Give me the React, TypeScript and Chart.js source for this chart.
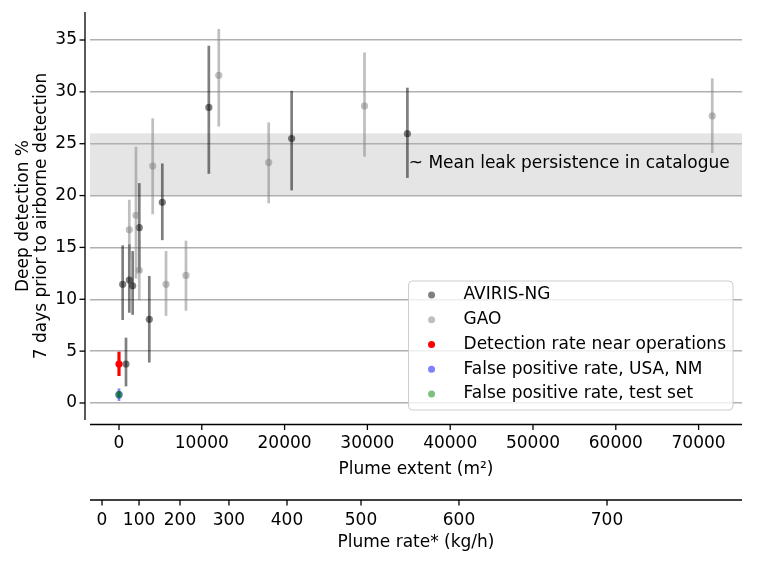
import { useEffect, useRef } from 'react';
import { Chart, registerables } from 'chart.js';
Chart.register(...registerables);

const FONT = "'DejaVu Sans', 'Liberation Sans', sans-serif";
const FS = 17;

// ---- data ----
const seriesNames = [
  'AVIRIS-NG',
  'GAO',
  'Detection rate near operations',
  'False positive rate, USA, NM',
  'False positive rate, test set',
];
const seriesColors = [
  'rgba(0,0,0,0.5)',
  'rgba(128,128,128,0.5)',
  'rgba(255,0,0,1)',
  'rgba(0,0,255,0.5)',
  'rgba(0,128,0,0.5)',
];

const avirisExtent = [445, 845, 1245, 1650, 2450, 3660, 5230, 10850, 20850, 34830];
const avirisValue = [11.45, 3.76, 11.86, 11.3, 16.9, 8.07, 19.35, 28.5, 25.5, 25.97];
const avirisLow = [8.0, 1.6, 8.7, 8.5, 12.6, 3.9, 15.7, 22.1, 20.5, 21.7];
const avirisHigh = [15.2, 6.3, 15.3, 14.65, 21.2, 12.25, 23.1, 34.45, 30.1, 30.4];

const gaoExtent = [1245, 2050, 2450, 4070, 5680, 8090, 12050, 18080, 29650, 71650];
const gaoValue = [16.7, 18.1, 12.8, 22.85, 11.45, 12.3, 31.6, 23.2, 28.64, 27.68];
const gaoLow = [13.8, 12.0, 9.9, 18.2, 8.4, 8.9, 26.65, 19.25, 23.75, 24.1];
const gaoHigh = [19.6, 24.7, 15.7, 27.45, 14.65, 15.65, 36.06, 27.06, 33.8, 31.3];

const opsExtent = [0];
const opsValue = [3.76];
const opsLow = [2.6];
const opsHigh = [4.95];

const fpUsaExtent = [0];
const fpUsaValue = [0.8];
const fpUsaLow = [0.2];
const fpUsaHigh = [1.4];

const fpTestExtent = [0];
const fpTestValue = [0.82];
const fpTestLow = [0.45];
const fpTestHigh = [1.15];

const bandLow = 20;
const bandHigh = 26;
const bandLabel = '~ Mean leak persistence in catalogue';
const bandLabelX = 35000;
const bandLabelY = 23.1;

const extentTicks = [0, 10000, 20000, 30000, 40000, 50000, 60000, 70000];
const rateTickLabels = [0, 100, 200, 300, 400, 500, 600, 700];
const rateTickExtents = [-2050, 2420, 7370, 13280, 20290, 29230, 41060, 58940];
const yTicks = [0, 5, 10, 15, 20, 25, 30, 35];

const xMin = -3502;
const xMax = 75242;
const yMin = -1.64;
const yMax = 37.7;

function pts(xs: number[], ys: number[], lo: number[], hi: number[]) {
  return xs.map((x, i) => ({ x, y: ys[i], yMin: lo[i], yMax: hi[i] }));
}

const decor = {
  id: 'decor',
  beforeDraw(chart: any) {
    const { ctx, chartArea, scales } = chart;
    const y = scales.y;
    const t = y.getPixelForValue(bandHigh);
    const b = y.getPixelForValue(bandLow);
    ctx.save();
    ctx.fillStyle = '#e5e5e5';
    ctx.fillRect(chartArea.left, t, chartArea.right - chartArea.left, b - t);
    ctx.restore();
  },
  beforeDatasetDraw(chart: any, args: any) {
    const ds = chart.data.datasets[args.index];
    const { ctx, scales } = chart;
    ctx.save();
    ctx.strokeStyle = ds.errColor;
    ctx.lineWidth = ds.errWidth;
    ctx.lineCap = 'butt';
    ds.data.forEach((p: any) => {
      const px = scales.x.getPixelForValue(p.x);
      ctx.beginPath();
      ctx.moveTo(px, scales.y.getPixelForValue(p.yMin));
      ctx.lineTo(px, scales.y.getPixelForValue(p.yMax));
      ctx.stroke();
    });
    ctx.restore();
  },
  afterDatasetsDraw(chart: any) {
    const { ctx, scales } = chart;
    ctx.save();
    ctx.fillStyle = '#000';
    ctx.font = `${FS}px ${FONT}`;
    ctx.textAlign = 'left';
    ctx.textBaseline = 'middle';
    ctx.fillText(bandLabel, scales.x.getPixelForValue(bandLabelX), scales.y.getPixelForValue(bandLabelY));
    ctx.restore();
  },
  afterDraw(chart: any) {
    const { ctx, chartArea, scales } = chart;
    const { left, right, top, bottom } = chartArea;
    ctx.save();
    ctx.strokeStyle = '#000';
    ctx.lineWidth = 1.3;
    // left spine
    const sx = left - 5;
    ctx.beginPath();
    ctx.moveTo(sx, top);
    ctx.lineTo(sx, bottom);
    ctx.stroke();
    yTicks.forEach((v) => {
      const py = scales.y.getPixelForValue(v);
      ctx.beginPath();
      ctx.moveTo(sx - 5.5, py);
      ctx.lineTo(sx, py);
      ctx.stroke();
    });
    // bottom spine
    const by = bottom + 4.5;
    ctx.beginPath();
    ctx.moveTo(left, by);
    ctx.lineTo(right, by);
    ctx.stroke();
    extentTicks.forEach((v) => {
      const px = scales.x.getPixelForValue(v);
      ctx.beginPath();
      ctx.moveTo(px, by);
      ctx.lineTo(px, by + 5.5);
      ctx.stroke();
    });
    // second axis
    const ry = scales.x2.top;
    ctx.beginPath();
    ctx.moveTo(left, ry);
    ctx.lineTo(right, ry);
    ctx.stroke();
    rateTickExtents.forEach((v) => {
      const px = scales.x2.getPixelForValue(v);
      ctx.beginPath();
      ctx.moveTo(px, ry);
      ctx.lineTo(px, ry + 5.5);
      ctx.stroke();
    });

    // legend
    ctx.font = `${FS}px ${FONT}`;
    const maxW = Math.max(...seriesNames.map((n) => ctx.measureText(n).width));
    const w = 55 + maxW + 7;
    const rowH = 24.75;
    const h = 14 + rowH * (seriesNames.length - 1) + 16;
    const bx = right - 9 - w;
    const byy = bottom - 10 - h;
    ctx.fillStyle = 'rgba(255,255,255,0.8)';
    ctx.strokeStyle = '#cccccc';
    ctx.lineWidth = 1;
    ctx.beginPath();
    ctx.roundRect(bx, byy, w, h, 4);
    ctx.fill();
    ctx.stroke();
    seriesNames.forEach((n, i) => {
      const cy = byy + 14 + i * rowH;
      ctx.fillStyle = seriesColors[i];
      ctx.beginPath();
      ctx.arc(bx + 23, cy, 3.5, 0, Math.PI * 2);
      ctx.fill();
      ctx.fillStyle = '#000';
      ctx.textAlign = 'left';
      ctx.textBaseline = 'middle';
      ctx.fillText(n, bx + 55, cy);
    });
    ctx.restore();
  },
};

export default function App() {
  const ref = useRef<HTMLCanvasElement>(null);
  useEffect(() => {
    const canvas = ref.current;
    if (!canvas) return;
    Chart.defaults.font.family = FONT;
    const font = { family: FONT, size: FS };
    const mk = (i: number, data: any[], order: number, errWidth: number) => ({
      label: seriesNames[i],
      data,
      order,
      backgroundColor: seriesColors[i],
      borderColor: seriesColors[i],
      pointBackgroundColor: seriesColors[i],
      pointBorderWidth: 0,
      pointRadius: 3.6,
      pointHoverRadius: 3.6,
      showLine: false,
      errColor: seriesColors[i],
      errWidth,
    });
    const chart = new Chart(canvas, {
      type: 'scatter',
      data: {
        datasets: [
          mk(0, pts(avirisExtent, avirisValue, avirisLow, avirisHigh), 5, 2.7),
          mk(1, pts(gaoExtent, gaoValue, gaoLow, gaoHigh), 4, 2.7),
          mk(2, pts(opsExtent, opsValue, opsLow, opsHigh), 3, 3.2),
          mk(3, pts(fpUsaExtent, fpUsaValue, fpUsaLow, fpUsaHigh), 2, 2.7),
          mk(4, pts(fpTestExtent, fpTestValue, fpTestLow, fpTestHigh), 1, 2.7),
        ] as any,
      },
      options: {
        responsive: false,
        animation: false,
        devicePixelRatio: 1,
        layout: { padding: { top: 12, right: 26, bottom: 1, left: 0 } },
        plugins: { legend: { display: false }, tooltip: { enabled: false } },
        events: [],
        scales: {
          x: {
            type: 'linear',
            position: 'bottom',
            weight: 0,
            min: xMin,
            max: xMax,
            afterBuildTicks: (s: any) => {
              s.ticks = extentTicks.map((v) => ({ value: v }));
            },
            ticks: {
              font,
              color: '#000',
              padding: 13.6,
              autoSkip: false,
              maxRotation: 0,
              callback: (v: any) => String(v),
            },
            grid: { display: false, drawTicks: false },
            border: { display: false },
            title: {
              display: true,
              text: 'Plume extent (m²)',
              font,
              color: '#000',
              padding: { top: -7.8, bottom: 19.8 },
            },
          },
          x2: {
            type: 'linear',
            position: 'bottom',
            weight: 1,
            min: xMin,
            max: xMax,
            afterBuildTicks: (s: any) => {
              s.ticks = rateTickExtents.map((v) => ({ value: v }));
            },
            ticks: {
              font,
              color: '#000',
              padding: 10.4,
              autoSkip: false,
              maxRotation: 0,
              callback: (_v: any, i: number) => String(rateTickLabels[i]),
            },
            grid: { display: false, drawTicks: false },
            border: { display: false },
            title: {
              display: true,
              text: 'Plume rate* (kg/h)',
              font,
              color: '#000',
              padding: { top: -8.7, bottom: 8.1 },
            },
          },
          y: {
            type: 'linear',
            min: yMin,
            max: yMax,
            afterBuildTicks: (s: any) => {
              s.ticks = yTicks.map((v) => ({ value: v }));
            },
            afterFit: (s: any) => {
              s.width = 90;
              s.paddingTop = 0;
              s.paddingBottom = 0;
            },
            ticks: { font, color: '#000', padding: 13 },
            grid: { color: '#b0b0b0', lineWidth: 1.5, drawTicks: false },
            border: { display: false },
            title: {
              display: true,
              text: ['Deep detection %', '7 days prior to airborne detection'],
              font: { family: FONT, size: FS, lineHeight: 1.06 },
              color: '#000',
              padding: { top: 15, bottom: 0 },
            },
          },
        },
      } as any,
      plugins: [decor],
    });
    return () => chart.destroy();
  }, []);
  return (
    <div style={{ position: 'fixed', left: 0, top: 0, width: 768, height: 562, background: '#fff' }}>
      <canvas ref={ref} width={768} height={562} style={{ width: 768, height: 562, display: 'block' }} />
    </div>
  );
}
